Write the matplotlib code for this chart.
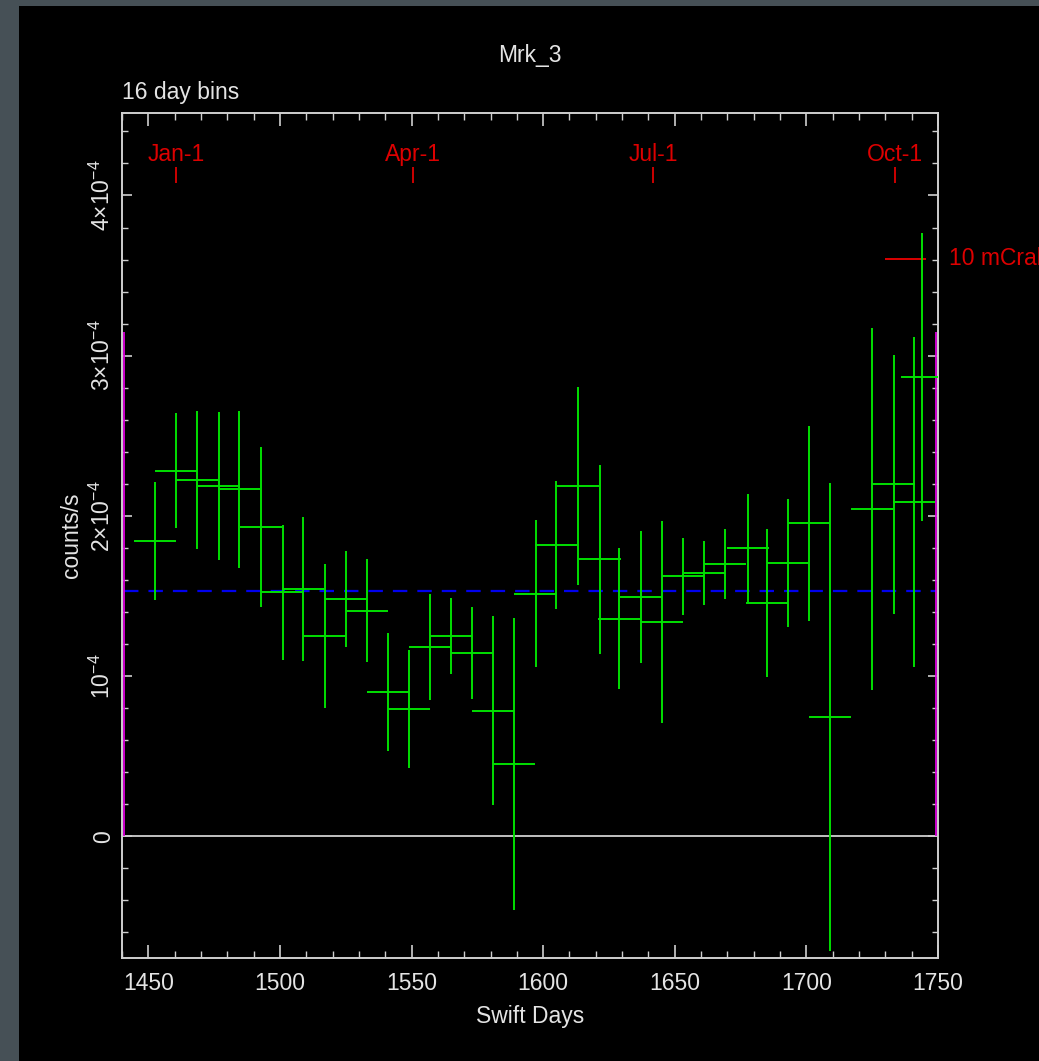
import numpy as np
import matplotlib
matplotlib.use("Agg")
import matplotlib.pyplot as plt
from matplotlib.patches import Rectangle
from matplotlib.ticker import MultipleLocator, FixedLocator, FixedFormatter

# ---- light curve: 16-day bins (Swift day, rate and 1-sigma error in units of 1e-4 counts/s)
days = [1452.6, 1460.6, 1468.6, 1476.8, 1484.6, 1492.9, 1501.2, 1508.9, 1517.1,
        1525.0, 1533.0, 1540.9, 1549.1, 1556.9, 1565.0, 1572.9, 1581.1, 1588.8,
        1597.1, 1604.9, 1613.2, 1621.6, 1628.9, 1637.2, 1645.0, 1653.1, 1661.0,
        1669.2, 1677.8, 1685.1, 1692.9, 1701.1, 1709.0, 1724.9, 1733.1, 1740.8,
        1744.0]
rate_e4 = [1.844, 2.283, 2.225, 2.186, 2.167, 1.933, 1.523, 1.544, 1.250,
           1.483, 1.408, 0.900, 0.794, 1.183, 1.250, 1.144, 0.783, 0.452,
           1.514, 1.819, 2.186, 1.729, 1.358, 1.494, 1.338, 1.623, 1.643,
           1.698, 1.799, 1.455, 1.707, 1.953, 0.745, 2.040, 2.196, 2.088,
           2.867]
err_e4 = [0.37, 0.36, 0.43, 0.46, 0.49, 0.50, 0.42, 0.45, 0.45,
          0.30, 0.32, 0.37, 0.37, 0.33, 0.24, 0.29, 0.59, 0.91,
          0.46, 0.40, 0.62, 0.59, 0.44, 0.41, 0.63, 0.24, 0.20,
          0.22, 0.34, 0.46, 0.40, 0.61, 1.46, 1.13, 0.81, 1.03,
          0.90]
bin_halfwidth = 8.0

mean_rate_e4 = 1.534          # weighted mean level
data_span = [1440.8, 1749.2]  # start / end of coverage
span_height_e4 = 3.145

month_labels = ["Jan-1", "Apr-1", "Jul-1", "Oct-1"]
month_days = [1460.7, 1550.7, 1641.7, 1733.7]

crab_level_e4 = 3.606         # 10 mCrab reference
crab_span = [1729.8, 1745.4]

x_limits = [1440, 1750]
y_limits_e4 = [-0.76, 4.515]
y_major_e4 = [0, 1, 2, 3, 4]
y_major_labels = ["0", r"$10^{-4}$", r"$2{\times}10^{-4}$", r"$3{\times}10^{-4}$",
                  r"$4{\times}10^{-4}$"]

scale = 1e-4
rate = np.array(rate_e4) * scale
err = np.array(err_e4) * scale

# ---- styling
plt.rcParams["font.family"] = ["Liberation Sans Narrow", "Liberation Sans", "DejaVu Sans"]
plt.rcParams["mathtext.fontset"] = "custom"
plt.rcParams["mathtext.rm"] = "Liberation Sans"
plt.rcParams["mathtext.it"] = "Liberation Sans"
FG = "#e4e4e4"
AXC = "#cfcfcf"
RED = "#dd0000"
GREEN = "#00e000"
FS = 16.5

fig = plt.figure(figsize=(10.39, 10.61), dpi=100)
fig.patch.set_facecolor("#465056")
fig.patches.append(Rectangle((19 / 1039, 0), 1 - 19 / 1039, 1 - 6 / 1061,
                             transform=fig.transFigure, facecolor="black",
                             edgecolor="none", zorder=-10))

ax = fig.add_axes([122 / 1039, 1 - 958 / 1061, (938 - 122) / 1039, (958 - 113) / 1061])
ax.set_facecolor("black")

ax.set_xlim(*x_limits)
ax.set_ylim(y_limits_e4[0] * scale, y_limits_e4[1] * scale)

# zero level and mean level
ax.axhline(0, color="#d0d0d0", lw=1.3, zorder=1)
ax.hlines(mean_rate_e4 * scale, data_span[0], data_span[1], color="#0000ee",
          lw=1.6, linestyles=(0, (6.5, 4.5)), zorder=2)

# coverage boundaries
ax.vlines(data_span, 0, span_height_e4 * scale, color="#dd00dd", lw=1.3, zorder=2)

# binned light curve
ax.errorbar(days, rate, xerr=bin_halfwidth, yerr=err, fmt="none",
            ecolor=GREEN, elinewidth=1.4, capsize=0, zorder=3)

# calendar markers
for lab, d in zip(month_labels, month_days):
    ax.text(d, 4.256 * scale, lab, color=RED, ha="center", va="center", fontsize=FS)
ax.vlines(month_days, 4.075 * scale, 4.175 * scale, color=RED, lw=1.3)

# 10 mCrab reference bar (label runs off the right edge of the canvas)
ax.hlines(crab_level_e4 * scale, crab_span[0], crab_span[1], color=RED, lw=1.4)
ax.text(1754, crab_level_e4 * scale, "10 mCrab", color=RED, ha="left", va="center",
        fontsize=FS, clip_on=False)

# axes frame and ticks
for s in ax.spines.values():
    s.set_color(AXC)
    s.set_linewidth(1.4)

ax.xaxis.set_major_locator(MultipleLocator(50))
ax.xaxis.set_minor_locator(MultipleLocator(10))
ax.yaxis.set_major_locator(FixedLocator([v * scale for v in y_major_e4]))
ax.yaxis.set_major_formatter(FixedFormatter(y_major_labels))
ax.yaxis.set_minor_locator(MultipleLocator(0.2 * scale))

ax.tick_params(axis="x", which="major", direction="in", length=9.5, width=1.2,
               color=AXC, top=True, bottom=True, labelsize=FS, labelcolor=FG, pad=10)
ax.tick_params(axis="x", which="minor", direction="in", length=5, width=1.0,
               color=AXC, top=True, bottom=True)
ax.tick_params(axis="y", which="major", direction="in", length=7.2, width=1.2,
               color=AXC, left=True, right=True, labelsize=FS, labelcolor=FG, pad=5)
ax.tick_params(axis="y", which="minor", direction="in", length=4, width=1.0,
               color=AXC, left=True, right=True)
for lbl in ax.get_yticklabels():
    lbl.set_rotation(90)
    lbl.set_va("center")

ax.set_xlabel("Swift Days", color=FG, fontsize=FS, labelpad=7)
ax.set_ylabel("counts/s", color=FG, fontsize=FS, labelpad=5)
ax.set_title("Mrk_3", color=FG, fontsize=FS, pad=37)
ax.text(0.0, 1.017, "16 day bins", transform=ax.transAxes, color=FG,
        fontsize=FS, ha="left", va="baseline")

fig.savefig("out.png", dpi=100, facecolor=fig.get_facecolor())
